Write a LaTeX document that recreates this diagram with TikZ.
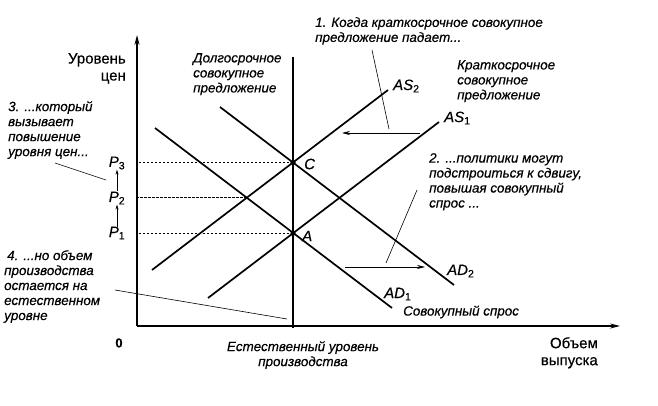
\documentclass[tikz,border=0pt]{standalone}
\usepackage{fontspec}
\setmainfont{Liberation Sans}[FakeBold=0.4]
\usetikzlibrary{arrows.meta}

\begin{document}
\begin{tikzpicture}[x=1pt, y=-1pt,
  curve/.style={line width=1.7pt},
  axis/.style={line width=1.3pt, -{Stealth[length=10pt, width=5pt]}},
  guide/.style={line width=0.6pt, dash pattern=on 2.5pt off 1.5pt},
  pointer/.style={line width=0.6pt},
  shiftarrow/.style={line width=0.7pt, -{Stealth[length=8pt, width=4pt]}},
  note/.style={inner sep=0pt, align=left, font=\fontsize{13.4}{15}\selectfont\itshape},
  plain/.style={inner sep=0pt, font=\fontsize{15}{17}\selectfont},
  curvename/.style={inner sep=0pt, font=\fontsize{15}{15}\selectfont\itshape},
]
\useasboundingbox (0,0) rectangle (658,406);
\pgfmathsetmacro{\xn}{293}

% axes
\coordinate (O) at (137,326);
\draw[axis] (O) -- (137,35);
\draw[axis] (O) -- (620,326);
\node[plain, font=\fontsize{13}{14}\selectfont\bfseries] (zero) at (119,343) {0};

% long run supply
\coordinate (lr top) at (\xn,57);
\coordinate (lr bot) at (\xn,328);
\draw[line width=1.4pt] (lr top) -- (lr bot);

% short run supply and demand
\coordinate (as1 a) at (208,298);
\coordinate (as1 b) at (439,122);
\coordinate (as2 a) at (152,270);
\coordinate (as2 b) at (388,90);
\coordinate (ad1 a) at (155,128);
\coordinate (ad1 b) at (392,308);
\coordinate (ad2 a) at (220,107);
\coordinate (ad2 b) at (454,285);
\draw[curve] (as1 a) -- (as1 b);
\draw[curve] (as2 a) -- (as2 b);
\draw[curve] (ad1 a) -- (ad1 b);
\draw[curve] (ad2 a) -- (ad2 b);

\coordinate (A) at (intersection of as1 a--as1 b and lr top--lr bot);
\coordinate (C) at (intersection of as2 a--as2 b and lr top--lr bot);
\coordinate (B) at (intersection of as2 a--as2 b and ad1 a--ad1 b);

\draw[guide] (A) -- (A -| O);
\draw[guide] (B) -- (B -| O);
\draw[guide] (C) -- (C -| O);
\fill (A) circle[radius=2.6pt];
\fill (C) circle[radius=2.6pt];
\node[curvename, anchor=west] (A lbl) at (302,236) {A};
\node[curvename, anchor=west] (C lbl) at (304,164) {C};

\node[curvename, anchor=west] (as1) at (444,118) {AS\textsubscript{\upshape 1}};
\node[curvename, anchor=west] (as2) at (393,86) {AS\textsubscript{\upshape 2}};
\node[curvename, anchor=west] (ad1) at (384,294) {AD\textsubscript{\upshape 1}};
\node[curvename, anchor=west] (ad2) at (447,271) {AD\textsubscript{\upshape 2}};

% price levels
\node[curvename] (p3) at (117,163) {P\textsubscript{\upshape 3}};
\node[curvename] (p2) at (117,198) {P\textsubscript{\upshape 2}};
\node[curvename] (p1) at (117,233) {P\textsubscript{\upshape 1}};
\draw[pointer, -{Stealth[length=5pt, width=3pt]}] (p1.north) -- (p2.south);
\draw[pointer, -{Stealth[length=5pt, width=3pt]}] (p2.north) -- (p3.south);

% shifts
\coordinate (sh as a) at (420,133);
\coordinate (sh as b) at (342,133);
\coordinate (sh ad a) at (345,267);
\coordinate (sh ad b) at (425,267);
\draw[shiftarrow] (sh as a) -- (sh as b);
\draw[shiftarrow] (sh ad a) -- (sh ad b);

% axis titles
\node[plain, anchor=north east, align=right] (ytitle) at (126,53) {Уровень\\цен};
\node[plain, anchor=north east, align=right] (xtitle) at (598,337) {Объем\\выпуска};
\node[note, anchor=north, align=center] (yn) at (303,341) {Естественный уровень\\производства};

% captions
\node[note, anchor=north west] (lras) at (193,53) {Долгосрочное\\совокупное\\предложение};
\node[note, anchor=north west] (sras) at (457,60) {Краткосрочное\\совокупное\\предложение};
\node[note, anchor=west] (ad) at (403,312) {Совокупный спрос};

% numbered remarks
\node[note, anchor=north west] (n1) at (315,17) {1. Когда краткосрочное совокупное\\предложение падает...};
\node[note, anchor=north west] (n2) at (429,153) {2. ...политики могут\\подстроиться к сдвигу,\\повышая совокупный\\спрос ...};
\node[note, anchor=north west] (n3) at (8,101) {3. ...который\\вызывает\\повышение\\уровня цен...};
\node[note, anchor=north west] (n4) at (4,250) {\hspace{3pt}4. ...но объем\\производства\\остается на\\естественном\\уровне};

\coordinate (c1 a) at (372,50);
\coordinate (c1 b) at (389,129);
\coordinate (c2 a) at (417,190);
\coordinate (c2 b) at (386,263);
\coordinate (c3 a) at (55,163);
\coordinate (c3 b) at (106,180);
\coordinate (c4 a) at (115,290);
\coordinate (c4 b) at (287,319);
\draw[pointer] (c1 a) -- (c1 b);
\draw[pointer] (c2 a) -- (c2 b);
\draw[pointer] (c3 a) -- (c3 b);
\draw[pointer] (c4 a) -- (c4 b);
\end{tikzpicture}
\end{document}
